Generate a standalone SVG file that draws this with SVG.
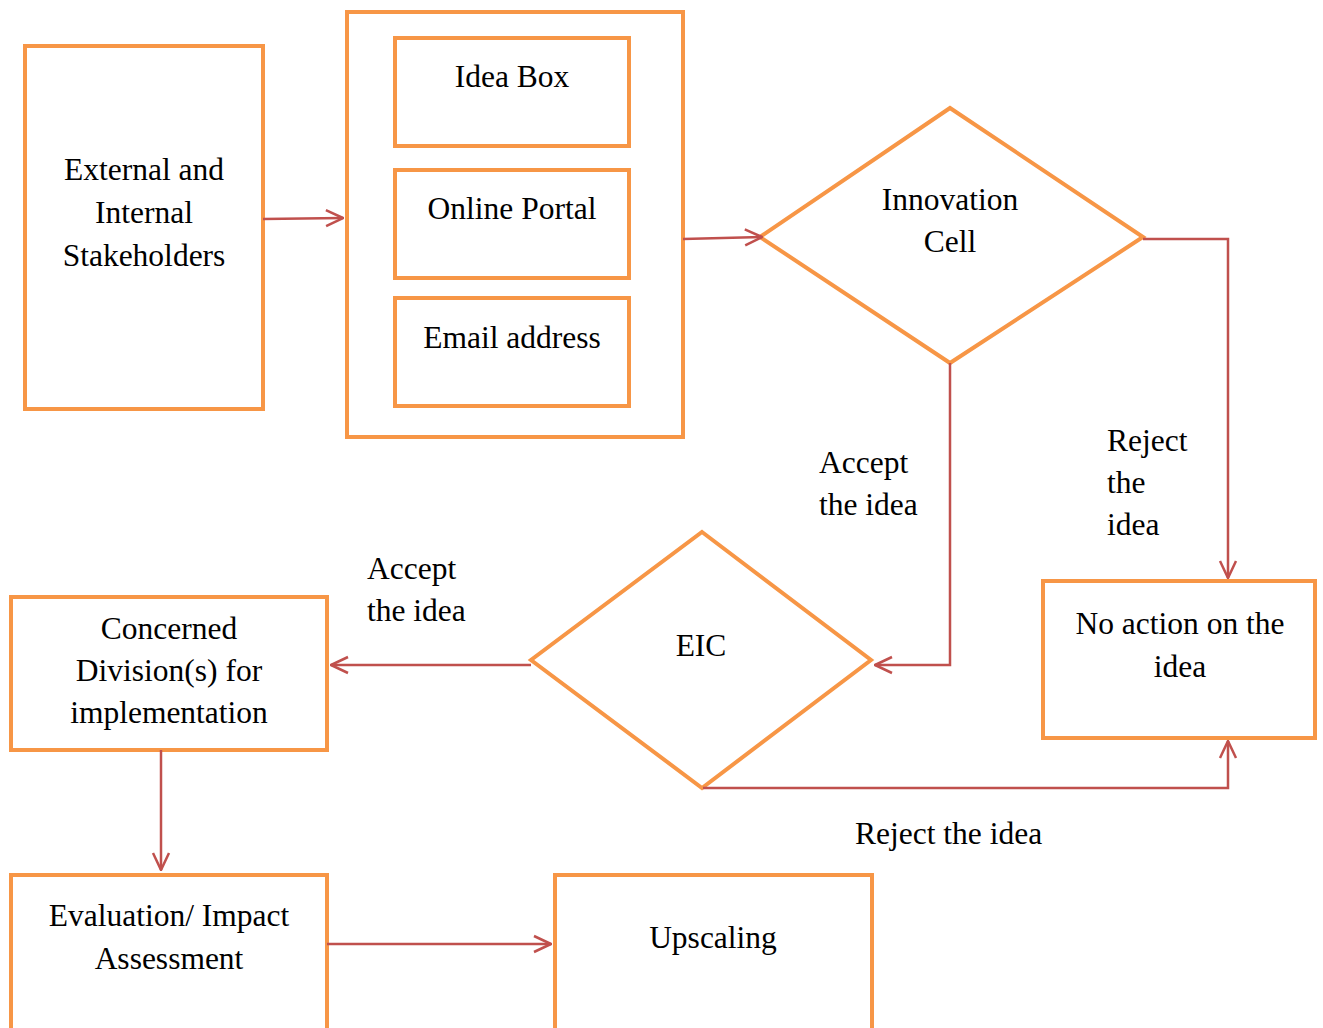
<svg xmlns="http://www.w3.org/2000/svg" width="1323" height="1028" viewBox="0 0 1323 1028">
<style>
.n{fill:#fff;stroke:#F79646;stroke-width:4}
.c{fill:none;stroke:#C0504D;stroke-width:2.5}
text{font-family:"Liberation Serif","Times New Roman",serif;font-size:31.5px;fill:#000}
.m{text-anchor:middle}
</style>
<defs>
<marker id="a" markerWidth="20" markerHeight="20" viewBox="0 0 20 20" refX="19" refY="10" orient="auto" markerUnits="userSpaceOnUse">
<path d="M2,2 L19,10 L2,18" fill="none" stroke="#C0504D" stroke-width="2.5"/>
</marker>
</defs>
<rect width="1323" height="1028" fill="#fff"/>
<g id="stakeholders"><rect class="n" x="25" y="46" width="238" height="363"/>
<text class="m" x="144" y="180">External and</text><text class="m" x="144" y="223">Internal</text><text class="m" x="144" y="266">Stakeholders</text></g>
<g id="channels"><rect class="n" x="347" y="12" width="336" height="425"/></g>
<g id="ideabox"><rect class="n" x="395" y="38" width="234" height="108"/><text class="m" x="512" y="87">Idea Box</text></g>
<g id="portal"><rect class="n" x="395" y="170" width="234" height="108"/><text class="m" x="512" y="219">Online Portal</text></g>
<g id="email"><rect class="n" x="395" y="298" width="234" height="108"/><text class="m" x="512" y="348">Email address</text></g>
<g id="innovation"><polygon class="n" points="950,108 1143,237 950,363 760,237"/>
<text class="m" x="950" y="210">Innovation</text><text class="m" x="950" y="252">Cell</text></g>
<g id="eic"><polygon class="n" points="702,532 871,660 702,788 531,660"/><text class="m" x="701" y="656">EIC</text></g>
<g id="concerned"><rect class="n" x="11" y="597" width="316" height="153"/>
<text class="m" x="169" y="639">Concerned</text><text class="m" x="169" y="681">Division(s) for</text><text class="m" x="169" y="723">implementation</text></g>
<g id="noaction"><rect class="n" x="1043" y="581" width="272" height="157"/>
<text class="m" x="1180" y="634">No action on the</text><text class="m" x="1180" y="677">idea</text></g>
<g id="evaluation"><rect class="n" x="11" y="875" width="316" height="160"/>
<text class="m" x="169" y="926">Evaluation/ Impact</text><text class="m" x="169" y="969">Assessment</text></g>
<g id="upscaling"><rect class="n" x="555" y="875" width="317" height="160"/><text class="m" x="713" y="948">Upscaling</text></g>
<g id="connectors">
<path class="c" d="M263,219 L343,218" marker-end="url(#a)"/>
<path class="c" d="M683,239 L762,237" marker-end="url(#a)"/>
<path class="c" d="M950,363 L950,665 L875,665" marker-end="url(#a)"/>
<path class="c" d="M1143,239 L1228,239 L1228,578" marker-end="url(#a)"/>
<path class="c" d="M531,665 L331,665" marker-end="url(#a)"/>
<path class="c" d="M703,788 L1228,788 L1228,741" marker-end="url(#a)"/>
<path class="c" d="M161,750 L161,870" marker-end="url(#a)"/>
<path class="c" d="M327,944 L551,944" marker-end="url(#a)"/>
</g>
<g id="labels">
<text x="819" y="473">Accept</text><text x="819" y="515">the idea</text>
<text x="1107" y="451">Reject</text><text x="1107" y="493">the</text><text x="1107" y="535">idea</text>
<text x="367" y="579">Accept</text><text x="367" y="621">the idea</text>
<text x="855" y="844">Reject the idea</text>
</g>
</svg>
